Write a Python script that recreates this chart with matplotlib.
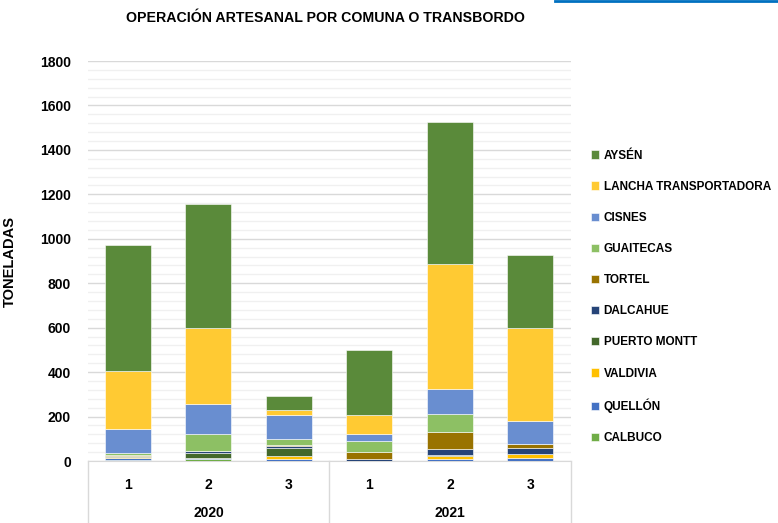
import matplotlib.pyplot as plt
from matplotlib.lines import Line2D
from matplotlib.ticker import MultipleLocator

plt.rcParams['font.family'] = ['Liberation Sans', 'DejaVu Sans']

years = ['2020', '2021']
periods = ['1', '2', '3']

# stacked bottom -> top
series = ['CALBUCO', 'QUELLÓN', 'VALDIVIA', 'PUERTO MONTT', 'DALCAHUE',
          'TORTEL', 'GUAITECAS', 'CISNES', 'LANCHA TRANSPORTADORA', 'AYSÉN']
calbuco = [4, 8, 0, 0, 0, 0]
quellon = [8, 7, 10, 2, 10, 12]
valdivia = [6, 0, 12, 0, 12, 19]
puerto_montt = [6, 21, 36, 0, 4, 0]
dalcahue = [0, 10, 8, 5, 26, 28]
tortel = [2, 0, 4, 35, 78, 18]
guaitecas = [10, 76, 28, 48, 81, 0]
cisnes = [110, 135, 108, 32, 112, 105]
lancha = [260, 343, 24, 86, 565, 418]
aysen = [564, 555, 63, 293, 637, 325]
values = [calbuco, quellon, valdivia, puerto_montt, dalcahue,
          tortel, guaitecas, cisnes, lancha, aysen]
colors = ['#70AD47', '#4472C4', '#FFC000', '#43682B', '#264478',
          '#997300', '#8DC064', '#698ED0', '#FFCA33', '#5A8A3A']

fig = plt.figure(figsize=(7.78, 5.23), dpi=100)
ax = fig.add_axes([0.1127, 0.1185, 0.6208, 0.7648])

x = list(range(len(years) * len(periods)))
bottom = [0] * len(x)
handles = []
for name, vals, col in zip(series, values, colors):
    b = ax.bar(x, vals, 0.57, bottom=bottom, color=col, edgecolor='white',
               linewidth=0.4, label=name, zorder=3)
    handles.append(b)
    bottom = [a + v for a, v in zip(bottom, vals)]

ax.set_xlim(-0.5, len(x) - 0.5)
ax.set_ylim(0, 1800)
ax.yaxis.set_major_locator(MultipleLocator(200))
ax.yaxis.set_minor_locator(MultipleLocator(40))
ax.grid(axis='y', which='major', color='#D9D9D9', linewidth=1, zorder=0)
ax.grid(axis='y', which='minor', color='#F0F0F0', linewidth=1, zorder=0)
for s in ['top', 'right', 'left']:
    ax.spines[s].set_visible(False)
ax.spines['bottom'].set_color('#D9D9D9')
ax.tick_params(axis='y', which='both', length=0, pad=12, labelsize=10)
for t in ax.get_yticklabels():
    t.set_fontweight('bold')
ax.set_xticks(x)
ax.set_xticklabels(periods * len(years), fontsize=10, fontweight='bold')
ax.tick_params(axis='x', length=0, pad=12)

for i, yr in enumerate(years):
    ax.text(i * 3 + 1, -0.13, yr, transform=ax.get_xaxis_transform(),
            ha='center', va='center', fontsize=10, fontweight='bold')

# separators below the category axis
for xs in [87.7, 329.3, 570.7]:
    fig.add_artist(Line2D([xs / 778, xs / 778], [0, 62 / 523],
                          color='#D9D9D9', linewidth=1))

ax.set_ylabel('TONELADAS', fontsize=10.5, fontweight='bold')
ax.yaxis.set_label_coords(-0.146, 0.5)
fig.text(325 / 778, 1 - 18 / 523, 'OPERACIÓN ARTESANAL POR COMUNA O TRANSBORDO',
         ha='center', va='center', fontsize=10.2, fontweight='bold')

fig.add_artist(Line2D([555 / 778, 1], [0.998, 0.998], color='#0070C0', linewidth=2))

leg = fig.legend(handles[::-1], series[::-1], loc='upper left',
                 bbox_to_anchor=(580 / 778, 1 - 139 / 523), frameon=False,
                 prop={'size': 8.5, 'weight': 'bold'}, handlelength=0.7,
                 handleheight=0.7, handletextpad=0.4, labelspacing=1.62)

fig.savefig('out.png', dpi=100)
